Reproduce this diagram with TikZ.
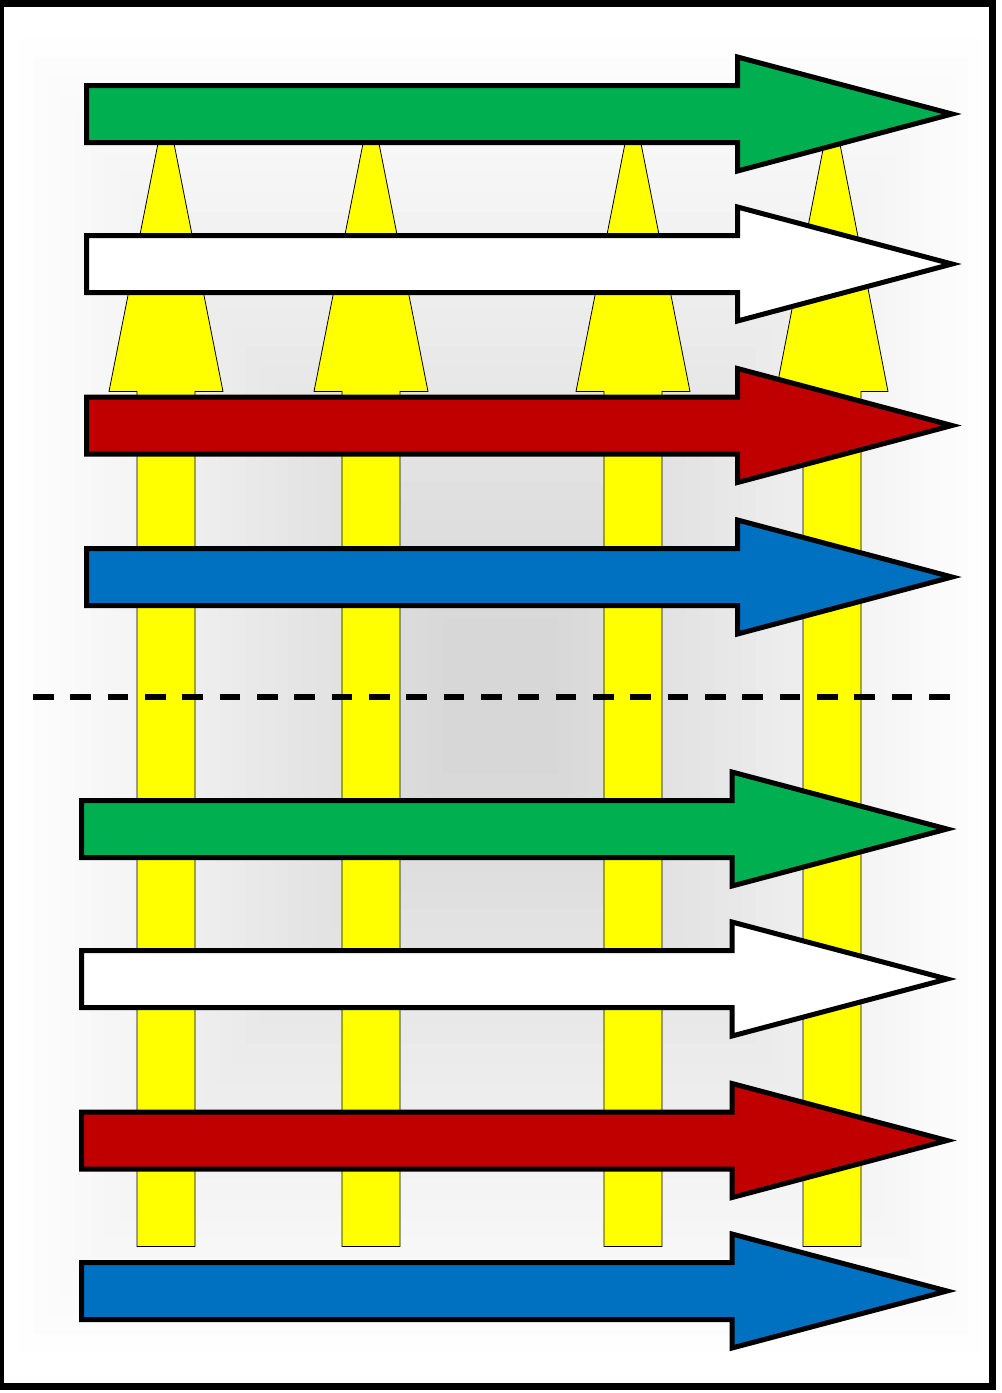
\documentclass[tikz,border=0pt]{standalone}
\usepackage{xcolor}
\usepackage{tikz}
\definecolor{green}{RGB}{0, 176, 80}
\definecolor{red}{RGB}{192, 0, 0}
\definecolor{blue}{RGB}{0, 112, 192}
\definecolor{yellow}{RGB}{255, 255, 0}

\begin{document}
\begin{tikzpicture}[x=0.75pt,y=0.75pt,yscale=-1,xscale=1,
  flow/.style={draw=black, line width=3.75pt},
  post/.style={draw=black, line width=0.6pt, fill=yellow}]
\useasboundingbox (0,0) rectangle (1001,1393);

%Shape: Rectangle (frame)
\draw [line width=5.25pt, fill=white]  (0,3.5) rectangle (992,1386.5) ;
%Shape: Rectangle (gradient, light edge to dark centre)
\foreach \i [evaluate=\i as \g using 15.5*(\i+1)/31, evaluate=\i as \s using 1-0.88*\i/30] in {0,...,30}
  \fill [black!\g] ({501-481*\s},{695.5-657.5*\s}) rectangle ({501+481*\s},{695.5+657.5*\s}) ;

%Shape: Up Arrow
\draw [post]  (137,1246.5) -- (137,391.5) -- (109,391.5) -- (166,103) -- (223,391.5) -- (195,391.5) -- (195,1246.5) -- cycle ;
%Shape: Up Arrow
\draw [post]  (342,1246.5) -- (342,391.5) -- (314,391.5) -- (371,103) -- (428,391.5) -- (400,391.5) -- (400,1246.5) -- cycle ;
%Shape: Up Arrow
\draw [post]  (604,1246.5) -- (604,391.5) -- (576,391.5) -- (633,103) -- (690,391.5) -- (662,391.5) -- (662,1246.5) -- cycle ;
%Shape: Up Arrow
\draw [post]  (803,1246.5) -- (803,391.5) -- (776,391.5) -- (832,103) -- (888,391.5) -- (861,391.5) -- (861,1246.5) -- cycle ;

%Shape: Right Arrow
\draw [flow, fill=green]  (86.5,85.5) -- (737.5,85.5) -- (737.5,57) -- (952,114) -- (737.5,171) -- (737.5,142.5) -- (86.5,142.5) -- cycle ;
%Shape: Right Arrow
\draw [flow, fill=white]  (86.5,235.5) -- (737.5,235.5) -- (737.5,207) -- (952,264) -- (737.5,321) -- (737.5,292.5) -- (86.5,292.5) -- cycle ;
%Shape: Right Arrow
\draw [flow, fill=red]  (86.5,397) -- (737.5,397) -- (737.5,368.5) -- (952,425.5) -- (737.5,482.5) -- (737.5,454) -- (86.5,454) -- cycle ;
%Shape: Right Arrow
\draw [flow, fill=blue]  (86.5,548.5) -- (737.5,548.5) -- (737.5,520) -- (952,577) -- (737.5,634) -- (737.5,605.5) -- (86.5,605.5) -- cycle ;

%Straight Lines
\draw [line width=4.5pt, dash pattern={on 15.5pt off 12.5pt}]  (33,696.7) -- (955,696.7) ;

%Shape: Right Arrow
\draw [flow, fill=green]  (81.5,800.5) -- (732,800.5) -- (732,772) -- (947,829) -- (732,886) -- (732,857.5) -- (81.5,857.5) -- cycle ;
%Shape: Right Arrow
\draw [flow, fill=white]  (81.5,950.5) -- (732,950.5) -- (732,922) -- (947,979) -- (732,1036) -- (732,1007.5) -- (81.5,1007.5) -- cycle ;
%Shape: Right Arrow
\draw [flow, fill=red]  (81.5,1112) -- (732,1112) -- (732,1083.5) -- (947,1140.5) -- (732,1197.5) -- (732,1169) -- (81.5,1169) -- cycle ;
%Shape: Right Arrow
\draw [flow, fill=blue]  (81.5,1262.5) -- (732,1262.5) -- (732,1234) -- (947,1291) -- (732,1348) -- (732,1319.5) -- (81.5,1319.5) -- cycle ;

\end{tikzpicture}
\end{document}
